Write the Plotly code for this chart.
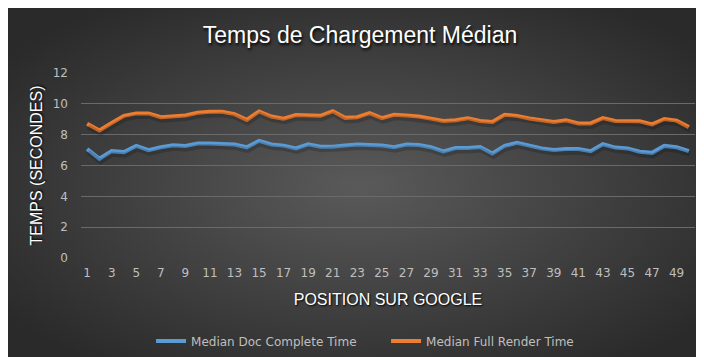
import base64
import plotly.graph_objects as go

positions = list(range(1, 51))
doc_complete = [7.07, 6.44, 6.93, 6.87, 7.27, 7.0, 7.18, 7.31, 7.27, 7.42,
                7.42, 7.38, 7.36, 7.18, 7.6, 7.36, 7.29, 7.11, 7.37, 7.22,
                7.22, 7.29, 7.36, 7.33, 7.29, 7.18, 7.36, 7.33, 7.18, 6.91,
                7.13, 7.13, 7.2, 6.78, 7.27, 7.47, 7.27, 7.11, 7.0, 7.07,
                7.07, 6.93, 7.38, 7.16, 7.11, 6.89, 6.82, 7.27, 7.18, 6.93]
full_render = [8.71, 8.27, 8.76, 9.22, 9.38, 9.38, 9.13, 9.18, 9.24, 9.42,
               9.49, 9.49, 9.33, 8.96, 9.51, 9.18, 9.04, 9.27, 9.23, 9.22,
               9.53, 9.09, 9.13, 9.4, 9.07, 9.29, 9.24, 9.18, 9.04, 8.89,
               8.93, 9.07, 8.89, 8.82, 9.29, 9.22, 9.05, 8.96, 8.82, 8.93,
               8.73, 8.73, 9.07, 8.89, 8.89, 8.87, 8.67, 9.02, 8.91, 8.49]
series_names = ["Median Doc Complete Time", "Median Full Render Time"]
series_colors = ["#5B9BD5", "#ED7D31"]

W, H = 704, 357
ML, MR, MT, MB = 73, 17, 65, 107
PW, PH = W - ML - MR, H - MT - MB

svg = f'''<svg xmlns="http://www.w3.org/2000/svg" width="{W}" height="{H}" viewBox="0 0 {W} {H}" preserveAspectRatio="none">
<defs><radialGradient id="g" cx="50%" cy="50%" r="62%">
<stop offset="0%" stop-color="#5a5a5a"/><stop offset="100%" stop-color="#2a2a2a"/>
</radialGradient></defs>
<rect x="0" y="0" width="{W}" height="{H}" fill="url(#g)"/></svg>'''
bg_src = "data:image/svg+xml;base64," + base64.b64encode(svg.encode()).decode()

XR = [0.5, 50.5]
YR = [0, 12]
# shadow axes: same scale, shifted by ~1px right and ~3px down
dx = 1 * (XR[1] - XR[0]) / PW
dy = 3 * (YR[1] - YR[0]) / PH

fig = go.Figure()
for vals in [doc_complete, full_render]:
    fig.add_trace(go.Scatter(x=positions, y=vals, mode="lines", showlegend=False,
                             hoverinfo="skip", xaxis="x2", yaxis="y2",
                             line=dict(color="rgba(0,0,0,0.18)", width=5)))
for name, vals, col in zip(series_names, [doc_complete, full_render], series_colors):
    fig.add_trace(go.Scatter(x=positions, y=vals, mode="lines", name=name,
                             line=dict(color=col, width=4)))

tick_font = dict(family="DejaVu Sans", size=12, color="#bfbfbf")
fig.update_layout(
    width=W, height=H,
    margin=dict(l=ML, r=MR, t=MT, b=MB, autoexpand=False),
    paper_bgcolor="#3a3a3a",
    plot_bgcolor="rgba(0,0,0,0)",
    images=[dict(source=bg_src, xref="paper", yref="paper",
                 x=-ML / PW, y=1 + MT / PH, sizex=W / PW, sizey=H / PH,
                 xanchor="left", yanchor="top", sizing="stretch", layer="below")],
    title=dict(text="Temps de Chargement Médian", x=0.5, xref="container",
               y=1 - 27 / H, yref="container", yanchor="middle", xanchor="center",
               font=dict(family="Liberation Sans", size=23, color="#ffffff",
                         shadow="1px 2px 3px #000000")),
    xaxis=dict(range=XR, tickmode="linear", tick0=1, dtick=2,
               showgrid=False, zeroline=False, showline=False, automargin=False,
               tickfont=tick_font, ticklabelstandoff=6,
               title=dict(text="POSITION SUR GOOGLE", standoff=14,
                          font=dict(family="Liberation Sans", size=16, color="#ffffff",
                                    shadow="1px 1px 2px #000000"))),
    yaxis=dict(range=YR, tickmode="linear", tick0=0, dtick=2,
               showgrid=True, gridcolor="#6a6a6a", gridwidth=1,
               zeroline=False, showline=False, automargin=False,
               tickfont=tick_font, ticklabelstandoff=12,
               title=dict(text="TEMPS (SECONDES)", standoff=6,
                          font=dict(family="Liberation Sans", size=16, color="#ffffff",
                                    shadow="1px 1px 2px #000000"))),
    xaxis2=dict(range=[XR[0] - dx, XR[1] - dx], overlaying="x", visible=False),
    yaxis2=dict(range=[YR[0] + dy, YR[1] + dy], overlaying="y", visible=False),
    legend=dict(orientation="h", x=0.537, xref="container", xanchor="center",
                y=1 - 333 / H, yref="container", yanchor="middle",
                font=dict(family="DejaVu Sans", size=12, color="#bfbfbf"),
                bgcolor="rgba(0,0,0,0)", itemwidth=30, tracegroupgap=0,
                entrywidth=190),
    showlegend=True,
)

fig.write_html("out.html")
